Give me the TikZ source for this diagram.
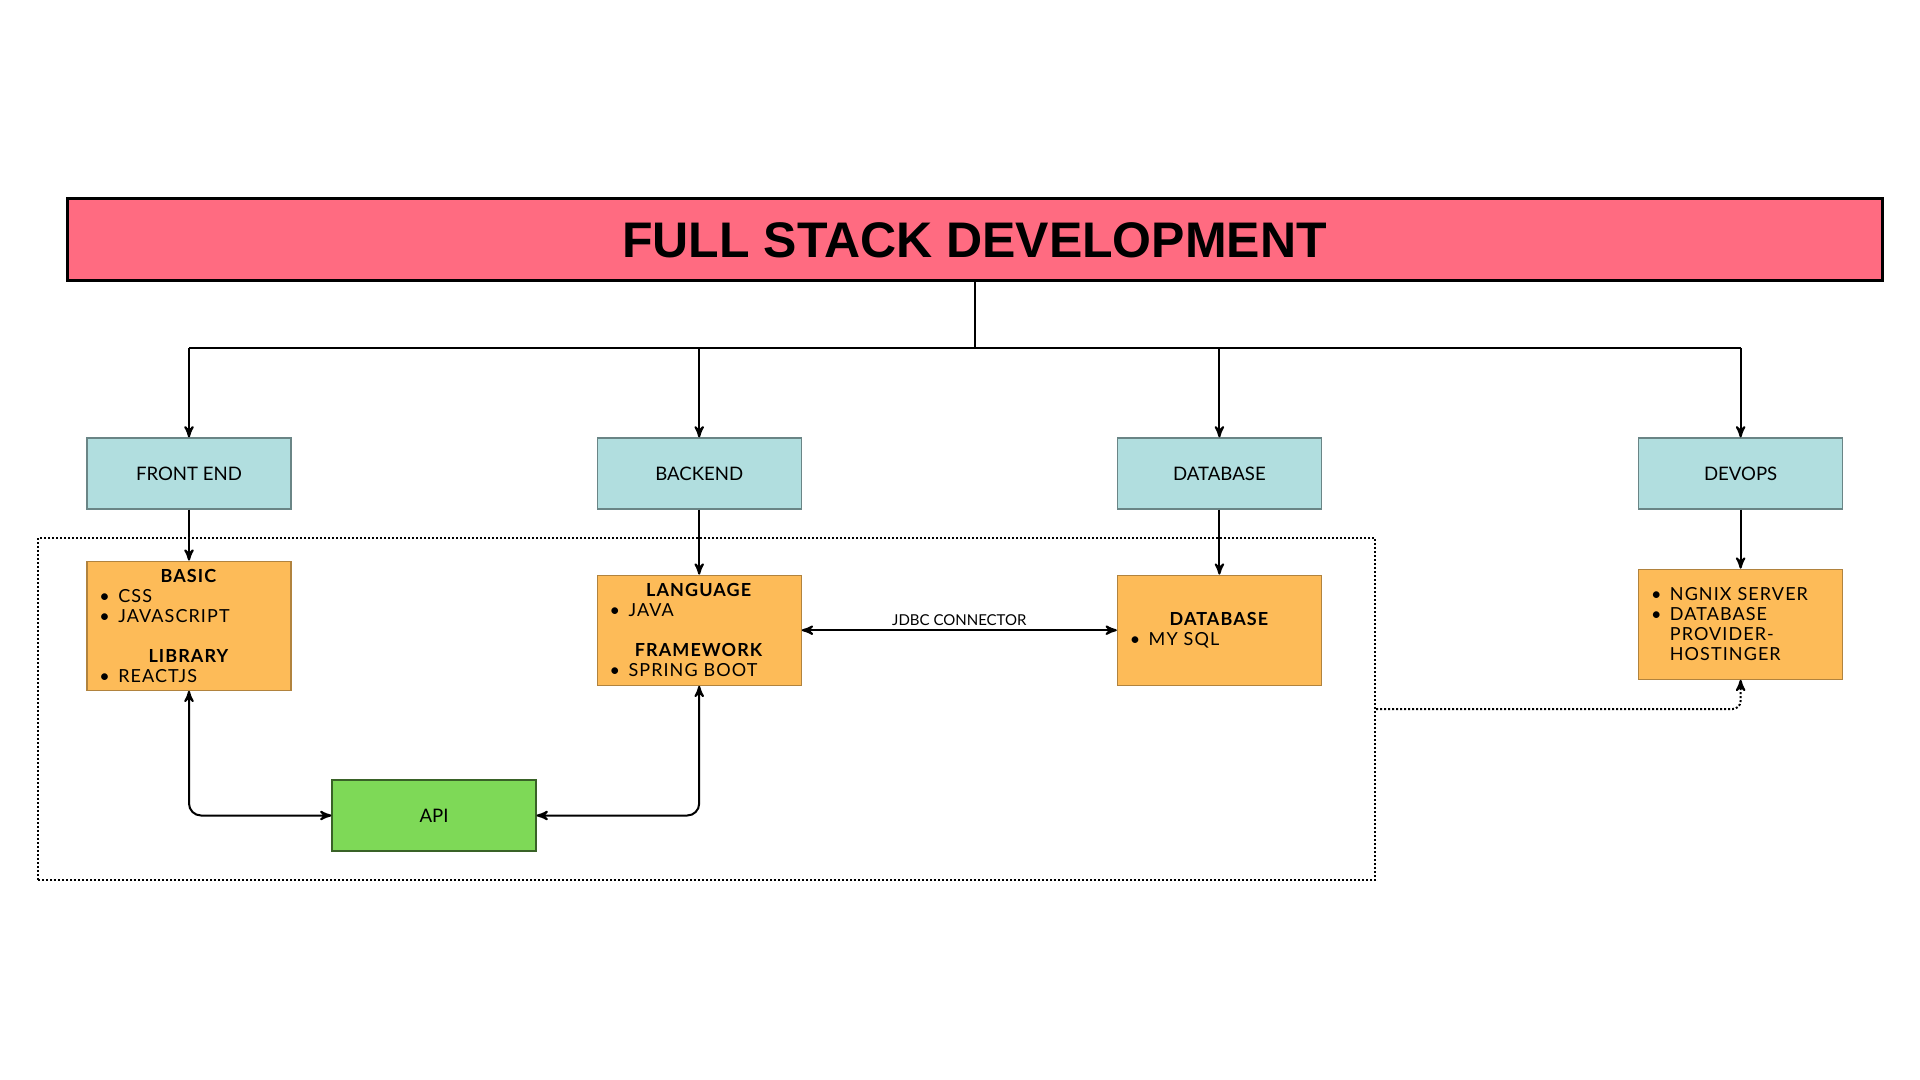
\documentclass[tikz,border=0pt]{standalone}
\usepackage{fontspec}
\setmainfont{Lato}
\newfontfamily\titlefont{Liberation Sans}
\newfontfamily\listfont{Lato}[LetterSpace=6]
\usetikzlibrary{arrows,positioning}

\definecolor{titlepink}{HTML}{FF6B81}
\definecolor{topicblue}{HTML}{B1DEDF}
\definecolor{listorange}{HTML}{FDBB58}
\definecolor{apigreen}{HTML}{7ED957}

\newcommand{\heading}[1]{\leavevmode\hfill\textbf{#1}\hfill\null}
\newcommand{\bul}{\makebox[1.05em][l]{\textbullet}}

\begin{document}
\begin{tikzpicture}[x=0.5pt,y=-0.5pt,->,>=stealth',line width=1pt]

    \tikzstyle{titlebox}=[draw=black,line width=1.5pt,fill=titlepink,minimum width=907.5pt,minimum height=41pt,font=\titlefont\bfseries\fontsize{25}{30}\selectfont]
    \tikzstyle{topic}=[draw=black!40!topicblue,line width=0.6pt,fill=topicblue,minimum width=102pt,minimum height=35.5pt,font=\fontsize{9.3}{11}\selectfont]
    \tikzstyle{topiclist}=[draw=black!30!listorange,line width=0.6pt,fill=listorange,text width=89.6pt,inner xsep=6.2pt,inner ysep=0pt,align=left,minimum height=55pt,font=\listfont\fontsize{9}{10}\selectfont]
    \tikzstyle{apibox}=[topic,fill=apigreen,draw=black!55!apigreen]
    \tikzstyle{groupframe}=[draw,densely dotted,minimum width=668.5pt,minimum height=171pt]

    \fill[white] (0,0) rectangle (1920,1080);
    \useasboundingbox (0,0) rectangle (1920,1080);

    \node[groupframe] (group) at (706.5,709) {};

    \node[titlebox] (title) at (974.5,240) {FULL STACK DEVELOPMENT};

    \node[topic] (front)  at (189,473.5)            {FRONT END};
    \node[topic] (back)   [right=152.5pt of front]  {BACKEND};
    \node[topic] (db)     [right=157.5pt of back]   {DATABASE};
    \node[topic] (devops) [right=158pt of db]       {DEVOPS};

    \node[topiclist,minimum height=64.5pt] (frontlist) [below=25.5pt of front]
        {\heading{BASIC}\\ \bul CSS\\ \bul JAVASCRIPT\\[10pt] \heading{LIBRARY}\\ \bul REACTJS};
    \node[topiclist] (backlist) [below=32.5pt of back]
        {\heading{LANGUAGE}\\ \bul JAVA\\[10pt] \heading{FRAMEWORK}\\ \bul SPRING BOOT};
    \node[topiclist] (dblist) [below=32.5pt of db]
        {\heading{DATABASE}\\ \bul MY SQL};
    \node[topiclist] (devopslist) [below=29.5pt of devops]
        {\bul NGNIX SERVER\\ \bul DATABASE\\ \hspace*{1.05em}PROVIDER-\\ \hspace*{1.05em}HOSTINGER};

    \node[apibox] (api) at (434,815.5) {API};

    \coordinate (bus) at (0,348);
    \draw[-] (title.south) -- (title.south |- bus);
    \draw[-] (front.north |- bus) -- (devops.north |- bus);
    \foreach \n in {front,back,db,devops}
        \draw (\n.north |- bus) -- (\n.north);

    \path (front)  edge (frontlist)
          (back)   edge (backlist)
          (db)     edge (dblist)
          (devops) edge (devopslist)
          (backlist) edge[<->] node[above,font=\fontsize{7.5}{9}\selectfont,inner sep=2pt] {JDBC CONNECTOR} (dblist)
    ;
    \draw[<->,rounded corners=6pt] (frontlist.south) |- (api.west);
    \draw[<->,rounded corners=6pt] (backlist.south) |- (api.east);
    \draw[densely dotted,rounded corners=4pt] (group.east) -| (devopslist.south);

\end{tikzpicture}
\end{document}
